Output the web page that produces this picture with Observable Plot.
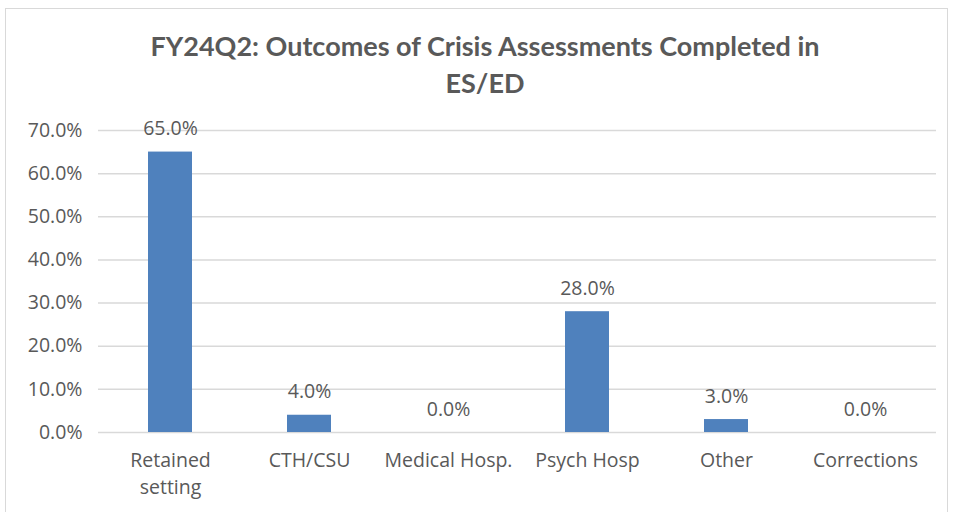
<!DOCTYPE html>
<html><head><meta charset="utf-8">
<script src="https://cdn.jsdelivr.net/npm/d3@7"></script>
<script src="https://cdn.jsdelivr.net/npm/@observablehq/plot@0.6"></script>
<style>
body{margin:0;background:#fff;}
#wrap{position:relative;width:954px;height:512px;overflow:hidden;background:#fff;}
#frame{position:absolute;left:5px;top:8px;width:943px;height:520px;border:1.5px solid #d9d9d9;box-sizing:border-box;}
#title{position:absolute;left:8px;top:27px;width:954px;text-align:center;font-family:Lato,"Open Sans",sans-serif;font-weight:bold;font-size:27px;line-height:37px;color:#595959;}
#chart{position:absolute;left:0;top:110px;}
</style></head>
<body><div id="wrap"><div id="frame"></div>
<div id="title">FY24Q2: Outcomes of Crisis Assessments Completed in<br>ES/ED</div>
<div id="chart"></div></div>
<script>
const categories = ["Retained setting","CTH/CSU","Medical Hosp.","Psych Hosp","Other","Corrections"];
const values = [0.65, 0.04, 0.0, 0.28, 0.03, 0.0];
const yTicks = [0,0.1,0.2,0.3,0.4,0.5,0.6,0.7];
const data = categories.map((c,i)=>({category:c, value:values[i]}));
const font = "'Open Sans', Lato, sans-serif";
const fs = 19.5;
const chart = Plot.plot({
  width:954, height:402,
  marginTop:20, marginBottom:80, marginLeft:98, marginRight:18,
  style:{fontFamily:font, fontSize:fs+"px", color:"#595959", background:"transparent"},
  x:{domain:categories, paddingInner:0.685, paddingOuter:0.3425, label:null},
  y:{domain:[0,0.7], label:null},
  marks:[
    Plot.gridY(yTicks,{stroke:"#d9d9d9", strokeOpacity:1, strokeWidth:1.5}),
    Plot.axisY(yTicks,{tickFormat:d=>(d*100).toFixed(1)+"%", tickSize:0, tickPadding:16, fontSize:fs, fill:"#595959"}),
    Plot.axisX({tickSize:0, tickPadding:16, fontSize:fs, fill:"#595959", lineHeight:1.35, tickFormat:d=>d==="Retained setting"?"Retained\nsetting":d}),
    Plot.barY(data,{x:"category", y:"value", fill:"#4f81bd"}),
    Plot.text(data,{x:"category", y:"value", text:d=>(d.value*100).toFixed(1)+"%", dy:-23, fontSize:fs, fill:"#595959"})
  ]
});
document.getElementById("chart").appendChild(chart);
</script></body></html>
